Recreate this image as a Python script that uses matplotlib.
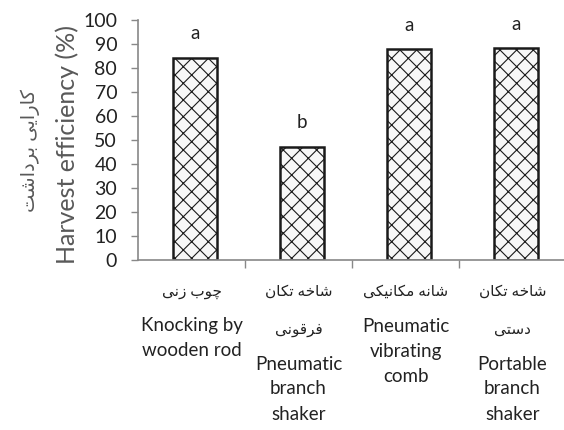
import numpy as np
import matplotlib.pyplot as plt

# data
values = [84.2, 47.1, 87.8, 88.2]
letters = ['a', 'b', 'a', 'a']
labels_fa = [['چوب زنی'], ['شاخه تکان', 'فرقونی'], ['شانه مکانیکی'], ['شاخه تکان', 'دستی']]
labels_en = [['Knocking by', 'wooden rod'],
             ['Pneumatic', 'branch', 'shaker'],
             ['Pneumatic', 'vibrating', 'comb'],
             ['Portable', 'branch', 'shaker']]
ylabel_en = 'Harvest efficiency (%)'
ylabel_fa = 'کارایی برداشت'
yticks = np.arange(0, 101, 10)

# minimal persian shaping: (isolated, final, initial, medial)
FORMS = {
    'ا': (0xFE8D, 0xFE8E, None, None),
    'ب': (0xFE8F, 0xFE90, 0xFE91, 0xFE92),
    'ت': (0xFE95, 0xFE96, 0xFE97, 0xFE98),
    'خ': (0xFEA5, 0xFEA6, 0xFEA7, 0xFEA8),
    'د': (0xFEA9, 0xFEAA, None, None),
    'ر': (0xFEAD, 0xFEAE, None, None),
    'ز': (0xFEAF, 0xFEB0, None, None),
    'س': (0xFEB1, 0xFEB2, 0xFEB3, 0xFEB4),
    'ش': (0xFEB5, 0xFEB6, 0xFEB7, 0xFEB8),
    'ف': (0xFED1, 0xFED2, 0xFED3, 0xFED4),
    'ق': (0xFED5, 0xFED6, 0xFED7, 0xFED8),
    'م': (0xFEE1, 0xFEE2, 0xFEE3, 0xFEE4),
    'ن': (0xFEE5, 0xFEE6, 0xFEE7, 0xFEE8),
    'ه': (0xFEE9, 0xFEEA, 0xFEEB, 0xFEEC),
    'و': (0xFEED, 0xFEEE, None, None),
    'ی': (0xFBFC, 0xFBFD, 0xFBFE, 0xFBFF),
    'ک': (0xFB8E, 0xFB8F, 0xFB90, 0xFB91),
    'چ': (0xFB7A, 0xFB7B, 0xFB7C, 0xFB7D),
}


def shape_fa(s):
    out = []
    for i, ch in enumerate(s):
        if ch not in FORMS:
            out.append(ch)
            continue
        prev = s[i - 1] if i > 0 else ''
        nxt = s[i + 1] if i + 1 < len(s) else ''
        pj = prev in FORMS and FORMS[prev][2] is not None
        nj = FORMS[ch][2] is not None and nxt in FORMS
        f = FORMS[ch]
        if pj and nj:
            code = f[3]
        elif pj:
            code = f[1]
        elif nj:
            code = f[2]
        else:
            code = f[0]
        out.append(chr(code))
    return ''.join(out)[::-1]


plt.rcParams['font.family'] = ['Lato', 'DejaVu Sans']
plt.rcParams['hatch.linewidth'] = 0.8
plt.rcParams['hatch.color'] = '#333333'

fig = plt.figure(figsize=(5.64, 4.30), dpi=100)
ax = fig.add_axes([138 / 564, 170 / 430, 428 / 564, 240 / 430])

x = np.arange(len(values))
ax.bar(x + 0.03, values, width=0.41, color='#f7f7f7', edgecolor='#1a1a1a',
       linewidth=1.8, hatch='xx')

for i, (v, t) in enumerate(zip(values, letters)):
    ax.text(i + 0.03, v + 10, t, ha='center', va='center', fontsize=13.5, color='#222222')

ax.set_xlim(-0.5, 3.5)
ax.set_ylim(0, 100)
ax.set_yticks(yticks)
ax.tick_params(axis='y', labelsize=14, length=5, width=1, color='#888888',
               labelcolor='#222222', pad=10)
ax.set_xticks(x)
ax.set_xticklabels([])
ax.tick_params(axis='x', which='major', length=0)
ax.set_xticks([0.5, 1.5, 2.5], minor=True)
ax.tick_params(axis='x', which='minor', length=6, width=1, color='#888888')

for s in ['top', 'right']:
    ax.spines[s].set_visible(False)
for s in ['left', 'bottom']:
    ax.spines[s].set_color('#888888')
    ax.spines[s].set_linewidth(1.2)

# category labels, persian lines first then english
for i in range(len(values)):
    off = 32
    for j, line in enumerate(labels_fa[i]):
        if j > 0:
            off += 38
        ax.annotate(shape_fa(line), xy=(i, 0), xycoords=('data', 'axes fraction'),
                    xytext=(0, -off * 0.72), textcoords='offset points',
                    ha='center', va='center', fontsize=11, color='#222222')
    off += 34
    for j, line in enumerate(labels_en[i]):
        if j > 0:
            off += 25
        ax.annotate(line, xy=(i, 0), xycoords=('data', 'axes fraction'),
                    xytext=(0, -off * 0.72), textcoords='offset points',
                    ha='center', va='center', fontsize=13.5, color='#222222')

fig.text(67 / 564, 1 - 144 / 430, ylabel_en, rotation=90, ha='center', va='center',
         fontsize=18, color='#595959')
fig.text(30 / 564, 1 - 150 / 430, shape_fa(ylabel_fa), rotation=90, ha='center',
         va='center', fontsize=14, color='#595959')

fig.savefig('out.png', dpi=100)
